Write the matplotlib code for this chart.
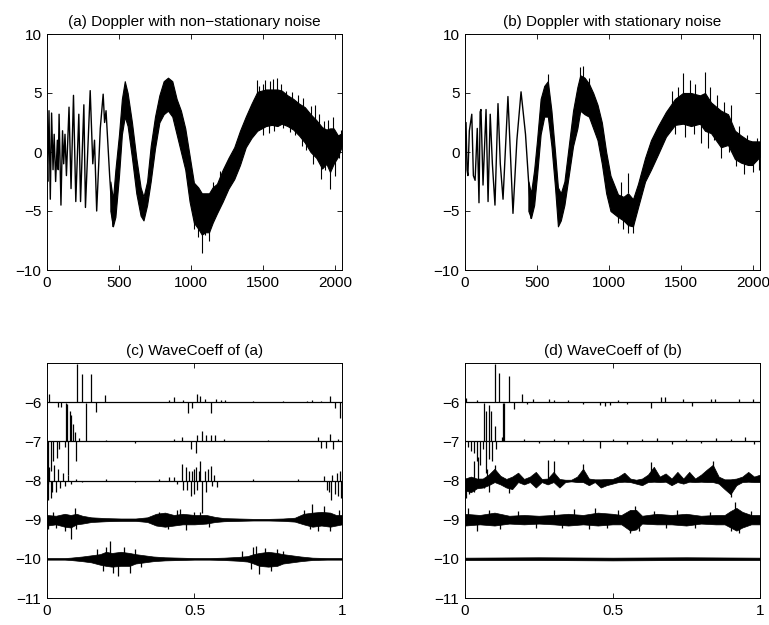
import matplotlib
matplotlib.use("Agg")
import matplotlib.pyplot as plt

plt.rcParams['font.family'] = ['Liberation Sans', 'DejaVu Sans']

# ---- (a) Doppler with non-stationary noise ----
# thin trace for the fast early oscillations (sample index, value)
trace_a_x = [0, 5, 14, 23, 32, 42, 50, 60, 72, 78, 84, 97, 108, 116, 125, 135, 153, 167, 184, 200,
             221, 233, 256, 267, 300, 318, 330, 345, 370, 390, 400, 410, 435, 458]
trace_a_y = [0, -2.5, 3.5, -4.0, 3.3, -1.5, 1.5, -2.5, 1.0, -1.5, 3.2, -4.5, 1.8, -1.0, 1.5, -2.0,
             3.8, -3.1, 4.8, -4.2, 3.2, -4.2, 4.0, -4.7, 5.2, -1.0, 1.0, -5.0, 2.0, 4.9, 2.5, 3.5, -2.0, -6.3]
# dense noisy core afterwards (sample index, lower edge, upper edge)
band_a_x = [440, 458, 475, 500, 520, 540, 560, 590, 620, 650, 670, 695, 720, 750, 780, 810, 840, 870,
            900, 930, 960, 990, 1020, 1050, 1075, 1100, 1125, 1150, 1180, 1220, 1260, 1300, 1340,
            1380, 1420, 1460, 1490, 1520, 1560, 1600, 1630, 1670, 1710, 1750, 1790, 1830, 1870,
            1910, 1940, 1965, 1990, 2020, 2047]
band_a_lo = [-5.0, -6.3, -5.5, -2.0, 1.5, 3.0, 2.2, -0.5, -3.5, -5.4, -5.8, -4.5, -2.5, 0.3, 2.5,
             3.2, 3.5, 3.0, 1.5, 0.0, -1.5, -4.2, -6.0, -6.5, -7.0, -6.8, -6.8, -6.0, -5.2, -4.2,
             -3.1, -2.3, -1.1, 0.4, 1.2, 1.8, 2.0, 2.2, 2.3, 2.2, 2.4, 2.2, 1.9, 1.4, 0.8, 0.0,
             -0.5, -1.4, -1.0, -1.7, -1.0, -0.4, 0.5]
band_a_hi = [-2.5, -4.0, -1.5, 1.5, 4.5, 6.0, 5.0, 2.5, -0.5, -3.0, -3.8, -2.5, 0.5, 3.0, 4.8,
             6.0, 6.3, 6.0, 4.5, 3.5, 2.0, -0.3, -2.6, -3.0, -3.5, -3.5, -3.5, -3.0, -2.7, -1.5,
             -0.5, 0.4, 1.8, 3.0, 4.1, 5.1, 5.2, 5.3, 5.3, 5.3, 5.2, 4.8, 4.5, 4.1, 3.8, 3.2,
             2.7, 2.1, 1.9, 2.0, 2.0, 1.4, 1.6]
# single noise strokes sticking out of the core (sample, from, to)
spk_a_x = [1020, 1050, 1075, 1100, 1125, 1150, 1200, 1440, 1460, 1475, 1500, 1515, 1545, 1570,
           1600, 1625, 1660, 1700, 1740, 1780, 1830, 1860, 1890, 1920, 1950, 1985, 2040,
           1500, 1540, 1575, 1640, 1690, 1720, 1770, 1800, 1845, 1880, 1905, 1930, 1965, 2000, 2030]
spk_a_y0 = [-5.0, -6.0, -6.5, -6.0, -6.0, -4.0, -3.0, 3.0, 4.0, 4.0, 4.0, 4.0, 4.0, 4.0,
            4.0, 4.0, 4.0, 3.5, 3.5, 3.0, 2.5, 2.0, 1.5, 1.0, 1.0, 1.0, 1.0,
            3.0, 3.0, 3.0, 3.0, 3.0, 2.5, 2.0, 1.5, 1.0, 1.0, 0.0, 0.0, 0.0, 0.0, 0.5]
spk_a_y1 = [-6.5, -7.2, -8.6, -7.0, -7.5, -2.5, -1.6, 4.5, 6.1, 5.6, 5.8, 6.1, 6.0, 6.2,
            6.3, 5.8, 5.2, 5.1, 4.8, 4.6, 3.9, 4.0, 3.2, 2.6, 2.7, 3.0, 1.9,
            1.4, 1.6, 1.8, 2.0, 1.7, 1.4, 0.5, 0.2, -1.0, -0.6, -2.3, -1.5, -3.1, -2.0, -0.5]

# ---- (b) Doppler with stationary noise ----
trace_b_x = [0, 7, 14, 20, 30, 47, 58, 70, 85, 97, 105, 111, 125, 146, 160, 175, 190, 208, 229,
             245, 264, 298, 333, 360, 389, 420, 458]
trace_b_y = [0, 2.5, -1.5, -2.0, 1.8, 3.2, -2.0, -2.4, 2.0, -4.3, 3.4, 3.6, -2.8, 3.6, -4.2, 3.2,
             -1.0, -4.5, 4.1, -1.0, -4.0, 4.7, -5.2, 1.0, 5.1, 1.5, -5.6]
band_b_x = [440, 458, 480, 500, 525, 550, 575, 600, 625, 645, 665, 690, 720, 750, 780, 800, 830,
            860, 890, 920, 950, 980, 1010, 1062, 1100, 1132, 1166, 1201, 1250, 1291, 1340, 1395,
            1458, 1513, 1569, 1631, 1666, 1708, 1777, 1826, 1874, 1916, 1965, 1993, 2047]
band_b_lo = [-5.0, -5.6, -4.5, -2.0, 1.5, 3.0, 3.0, 0.5, -3.0, -6.3, -5.8, -4.5, -2.0, 0.5, 2.0,
             3.5, 3.2, 3.0, 2.0, 1.0, -1.0, -3.5, -5.0, -5.5, -5.8, -6.2, -6.3, -4.7, -2.5, -1.5,
             -0.2, 1.3, 2.3, 2.4, 2.2, 2.4, 1.8, 1.6, 0.4, 0.6, -0.6, -0.9, -1.1, -1.1, -0.4]
band_b_hi = [-2.5, -3.5, -1.5, 1.0, 4.5, 5.6, 6.0, 3.5, 0.0, -3.0, -3.5, -2.5, 0.5, 3.5, 5.5,
             6.5, 6.3, 5.8, 5.0, 4.0, 2.5, 0.0, -2.0, -3.6, -3.8, -3.5, -4.0, -2.7, -0.5, 1.0,
             2.2, 3.4, 4.5, 5.0, 5.0, 4.8, 5.0, 4.2, 3.5, 3.2, 1.8, 1.4, 1.0, 0.9, 0.9]
spk_b_x = [575, 800, 820, 860, 1062, 1080, 1100, 1132, 1166, 1130, 1440, 1480, 1513, 1560, 1600,
           1666, 1700, 1750, 1800, 1850, 1900, 1960, 2030,
           1460, 1530, 1590, 1640, 1690, 1730, 1780, 1830, 1880, 1940, 2000, 2040]
spk_b_y0 = [5.0, 6.0, 6.0, 5.5, -5.0, -4.0, -5.5, -6.0, -6.0, -3.5, 4.0, 4.0, 4.5, 4.5, 4.5,
            4.5, 4.0, 3.5, 3.0, 2.5, 1.0, 0.5, 0.5,
            2.5, 2.5, 2.5, 2.5, 2.0, 2.0, 0.8, 0.8, -0.3, -0.5, -0.5, -0.3]
spk_b_y1 = [6.6, 7.2, 7.3, 6.3, -6.0, -2.5, -6.5, -6.9, -6.9, -1.8, 5.2, 5.5, 6.7, 6.1, 5.8,
            6.8, 5.5, 4.8, 4.2, 4.0, 2.2, 1.4, 1.2,
            1.5, 1.3, 1.5, 0.8, 0.3, 1.0, -0.5, 0.0, -1.2, -1.9, -1.7, -1.5]

# ---- (c) wavelet coefficients of (a): spikes (position, height) per level ----
c6_pos = [0.008, 0.038, 0.047, 0.102, 0.118, 0.148, 0.165, 0.197, 0.415, 0.43, 0.462, 0.477,
          0.491, 0.507, 0.519, 0.537, 0.555, 0.572, 0.59, 0.602, 0.7, 0.8, 0.88, 0.9, 0.93,
          0.959, 0.978, 0.993]
c6_val = [0.21, -0.13, -0.13, 0.97, 0.71, 0.71, -0.26, 0.19, 0.06, 0.12, 0.06, -0.27, -0.14,
          0.2, 0.16, 0.08, -0.27, 0.08, 0.06, 0.06, 0.03, 0.03, 0.04, 0.05, 0.04, 0.15, -0.14, -0.4]
c7_pos = [0.005, 0.012, 0.02, 0.035, 0.042, 0.06, 0.063, 0.069, 0.072, 0.077, 0.082, 0.088,
          0.094, 0.1, 0.108, 0.133, 0.2, 0.3, 0.43, 0.459, 0.487, 0.504, 0.51, 0.524, 0.54,
          0.555, 0.57, 0.6, 0.75, 0.92, 0.93, 0.945, 0.96, 0.97, 0.985]
c7_val = [-1.1, -0.77, -0.5, -0.43, -0.2, -0.15, 0.98, 0.95, -0.85, 0.78, 0.66, 0.45, 0.25, -0.5,
          0.08, 0.98, 0.04, -0.04, 0.05, 0.1, -0.2, -0.31, 0.15, 0.26, 0.15, 0.15, 0.15, 0.06,
          0.04, 0.1, -0.16, -0.16, 0.18, -0.2, 0.06]
c8_pos = [0.003, 0.008, 0.012, 0.018, 0.025, 0.03, 0.038, 0.045, 0.055, 0.06, 0.07, 0.08, 0.1,
          0.12, 0.2, 0.3, 0.38, 0.415, 0.43, 0.44, 0.459, 0.462, 0.47, 0.475, 0.48, 0.487, 0.49,
          0.497, 0.5, 0.505, 0.51, 0.515, 0.52, 0.527, 0.535, 0.54, 0.545, 0.555, 0.56, 0.565,
          0.575, 0.7, 0.85, 0.94, 0.95, 0.955, 0.962, 0.967, 0.975, 0.982, 0.988, 0.995, 0.998]
c8_val = [-0.5, 0.35, -0.45, -0.3, 0.4, -0.3, 0.3, -0.2, 0.2, -0.15, 0.15, -0.1, 0.05, -0.05,
          0.03, -0.03, 0.04, 0.08, 0.1, -0.1, 0.41, -0.25, 0.35, -0.23, 0.25, -0.4, 0.25, 0.3,
          -0.35, 0.35, -0.25, 0.25, 0.5, -0.83, 0.25, -0.3, 0.3, 0.37, -0.15, 0.15, -0.16, 0.03,
          0.03, 0.11, -0.23, -0.3, -0.49, 0.15, -0.35, 0.2, -0.4, 0.25, -0.45]
c9_pos = [0, 0.03, 0.06, 0.08, 0.1, 0.12, 0.15, 0.2, 0.25, 0.3, 0.34, 0.37, 0.4, 0.43, 0.46,
          0.5, 0.54, 0.57, 0.6, 0.65, 0.7, 0.75, 0.8, 0.84, 0.87, 0.9, 0.93, 0.96, 0.98, 1.0]
c9_hi = [0.12, 0.1, 0.15, 0.12, 0.15, 0.1, 0.06, 0.04, 0.03, 0.03, 0.06, 0.15, 0.18, 0.12, 0.15,
         0.12, 0.12, 0.07, 0.04, 0.03, 0.02, 0.02, 0.03, 0.05, 0.15, 0.18, 0.2, 0.18, 0.12, 0.12]
c9_lo = [-0.15, -0.12, -0.18, -0.2, -0.12, -0.1, -0.06, -0.04, -0.03, -0.03, -0.06, -0.15, -0.18,
         -0.15, -0.12, -0.12, -0.1, -0.06, -0.04, -0.03, -0.02, -0.02, -0.03, -0.05, -0.12,
         -0.18, -0.15, -0.18, -0.15, -0.12]
c9_spk_pos = [0.005, 0.02, 0.03, 0.06, 0.08, 0.095, 0.1, 0.38, 0.41, 0.44, 0.45, 0.47, 0.5,
              0.52, 0.55, 0.87, 0.89, 0.9, 0.92, 0.94, 0.96, 0.99]
c9_spk_val = [-0.25, 0.2, -0.2, -0.3, -0.5, 0.3, -0.25, 0.2, -0.25, 0.25, 0.28, -0.27, 0.2,
              0.2, -0.18, 0.25, -0.25, 0.4, -0.3, 0.35, -0.3, 0.25]
c10_pos = [0, 0.06, 0.08, 0.12, 0.15, 0.18, 0.2, 0.22, 0.25, 0.28, 0.3, 0.33, 0.36, 0.4, 0.45,
           0.5, 0.55, 0.6, 0.65, 0.68, 0.7, 0.72, 0.75, 0.78, 0.8, 0.83, 0.86, 0.9, 0.95, 1.0]
c10_hi = [0.02, 0.02, 0.03, 0.06, 0.09, 0.12, 0.18, 0.15, 0.18, 0.15, 0.12, 0.09, 0.06, 0.04,
          0.03, 0.02, 0.02, 0.03, 0.05, 0.07, 0.12, 0.15, 0.18, 0.15, 0.12, 0.09, 0.06, 0.03,
          0.02, 0.02]
c10_lo = [-0.02, -0.02, -0.03, -0.06, -0.09, -0.15, -0.18, -0.2, -0.18, -0.18, -0.12, -0.09,
          -0.06, -0.04, -0.03, -0.02, -0.02, -0.03, -0.05, -0.07, -0.12, -0.18, -0.2, -0.18,
          -0.12, -0.09, -0.06, -0.03, -0.02, -0.02]
c10_spk_pos = [0.17, 0.19, 0.2, 0.212, 0.225, 0.24, 0.26, 0.28, 0.3, 0.32, 0.66, 0.69, 0.7,
               0.71, 0.72, 0.74, 0.76, 0.78, 0.8]
c10_spk_val = [0.25, -0.3, 0.3, 0.45, -0.35, -0.45, 0.3, -0.35, 0.25, -0.2, 0.2, -0.25, 0.3,
               0.33, -0.38, 0.28, -0.3, 0.25, 0.2]

# ---- (d) wavelet coefficients of (b) ----
d6_pos = [0.005, 0.04, 0.1, 0.115, 0.148, 0.165, 0.193, 0.21, 0.23, 0.285, 0.3, 0.35, 0.4,
          0.456, 0.473, 0.49, 0.52, 0.55, 0.63, 0.664, 0.677, 0.739, 0.769, 0.835, 0.848, 0.928,
          0.977]
d6_val = [0.1, 0.06, 0.97, 0.74, 0.66, -0.17, 0.21, -0.05, 0.08, 0.09, 0.05, 0.06, -0.05, -0.08,
          -0.09, -0.08, 0.06, -0.05, -0.14, 0.14, 0.14, 0.08, -0.1, 0.08, 0.09, 0.08, 0.09]
d7_pos = [0.01, 0.02, 0.03, 0.04, 0.05, 0.06, 0.064, 0.07, 0.072, 0.08, 0.082, 0.087, 0.09, 0.1,
          0.105, 0.125, 0.128, 0.132, 0.2, 0.25, 0.3, 0.35, 0.4, 0.456, 0.5, 0.55, 0.6, 0.65,
          0.7, 0.75, 0.8, 0.85, 0.9, 0.95, 0.98]
d7_val = [-0.15, -0.25, -0.3, -0.5, -0.6, -0.2, 0.98, 0.77, -0.8, -0.45, 0.94, 0.77, -0.5, 0.38,
          -0.2, 0.1, 0.98, 0.98, 0.05, -0.05, 0.06, -0.06, 0.05, -0.16, 0.06, -0.06, 0.05, 0.08,
          -0.06, 0.07, -0.05, 0.08, 0.06, 0.1, -0.08]
d8_spk_pos = [0.005, 0.015, 0.03, 0.032, 0.045, 0.065, 0.075, 0.08, 0.1, 0.15, 0.28, 0.3, 0.4,
              0.63, 0.84, 0.9]
d8_spk_val = [-0.45, -0.35, -0.3, 0.5, 0.6, -0.2, 0.3, -0.3, 0.4, -0.32, 0.53, 0.49, 0.41,
              0.47, 0.51, -0.42]
d8_pos = [0.0, 0.02, 0.04, 0.06, 0.08, 0.1, 0.12, 0.14, 0.16, 0.18, 0.2, 0.22, 0.24, 0.26, 0.28,
          0.3, 0.32, 0.34, 0.36, 0.38, 0.4, 0.42, 0.44, 0.46, 0.48, 0.5, 0.52, 0.54, 0.56, 0.58,
          0.6, 0.62, 0.64, 0.66, 0.68, 0.7, 0.72, 0.74, 0.76, 0.78, 0.8, 0.82, 0.84, 0.86, 0.88,
          0.9, 0.92, 0.94, 0.96, 0.98, 1.0]
d8_hi = [0.05, 0.1, 0.05, 0.05, 0.15, 0.3, 0.12, 0.04, 0.1, 0.2, 0.04, 0.1, 0.22, 0.04, 0.05,
         0.22, 0.04, 0.02, 0.02, 0.1, 0.3, 0.05, 0.03, 0.03, 0.04, 0.04, 0.1, 0.2, 0.05, 0.02,
         0.05, 0.15, 0.35, 0.1, 0.18, 0.05, 0.22, 0.05, 0.22, 0.05, 0.15, 0.28, 0.4, 0.1, 0.03,
         0.03, 0.05, 0.1, 0.22, 0.1, 0.15]
d8_lo = [-0.25, -0.3, -0.2, -0.18, -0.12, -0.04, -0.1, -0.18, -0.22, -0.04, -0.1, -0.04, -0.18,
         -0.04, -0.1, -0.04, -0.18, -0.04, -0.02, -0.04, -0.04, -0.12, -0.04, -0.18, -0.12,
         -0.08, -0.04, -0.03, -0.04, -0.08, -0.12, -0.04, -0.03, -0.04, -0.03, -0.12, -0.04,
         -0.08, -0.03, -0.04, -0.03, -0.04, -0.04, -0.08, -0.22, -0.35, -0.12, -0.04, -0.03,
         -0.04, -0.04]
d9_pos = [0, 0.05, 0.1, 0.15, 0.2, 0.25, 0.3, 0.35, 0.4, 0.45, 0.5, 0.53, 0.56, 0.58, 0.6, 0.65,
          0.7, 0.75, 0.8, 0.85, 0.88, 0.9, 0.92, 0.94, 0.97, 1.0]
d9_hi = [0.15, 0.12, 0.18, 0.1, 0.12, 0.1, 0.12, 0.15, 0.12, 0.18, 0.15, 0.12, 0.25, 0.25, 0.1,
         0.15, 0.12, 0.15, 0.1, 0.12, 0.12, 0.22, 0.3, 0.2, 0.12, 0.12]
d9_lo = [-0.15, -0.12, -0.15, -0.1, -0.12, -0.1, -0.12, -0.15, -0.12, -0.15, -0.12, -0.12, -0.28,
         -0.25, -0.1, -0.12, -0.12, -0.15, -0.1, -0.12, -0.12, -0.2, -0.28, -0.2, -0.12, -0.12]
d9_spk_pos = [0.01, 0.04, 0.08, 0.12, 0.18, 0.24, 0.3, 0.33, 0.37, 0.42, 0.44, 0.48, 0.52, 0.56,
              0.575, 0.59, 0.64, 0.68, 0.72, 0.78, 0.83, 0.9, 0.915, 0.93, 0.97]
d9_spk_val = [0.3, -0.3, 0.25, -0.25, 0.22, -0.2, 0.25, -0.22, 0.28, -0.25, 0.3, -0.22, 0.25,
              -0.35, 0.35, -0.3, 0.22, -0.2, 0.25, -0.22, 0.2, -0.3, 0.45, -0.35, 0.22]
d10_pos = [0, 0.25, 0.5, 0.75, 1.0]
d10_hi = [0.03, 0.04, 0.03, 0.04, 0.03]
d10_lo = [-0.03, -0.03, -0.04, -0.03, -0.03]

levels = [-6, -7, -8, -9, -10]
FS = 11


def style(ax):
    ax.tick_params(direction='in', top=True, right=True, length=3.5, width=0.6,
                   labelsize=FS, pad=4)
    for s in ax.spines.values():
        s.set_linewidth(0.7)


def doppler(ax, tx, ty, bx, blo, bhi, sx, sy0, sy1, title):
    ax.plot(tx, ty, color='k', lw=1.0)
    ax.fill_between(bx, blo, bhi, color='k', lw=0.8)
    ax.vlines(sx, sy0, sy1, color='k', lw=0.8)
    ax.set_xlim(0, 2048)
    ax.set_ylim(-10, 10)
    ax.set_xticks([0, 500, 1000, 1500, 2000])
    ax.set_yticks([-10, -5, 0, 5, 10])
    ax.set_title(title, fontsize=FS, pad=6)
    style(ax)


def shift(base, vals):
    return [base + v for v in vals]


def coeffs(ax, spikes, bands, title):
    ax.hlines(levels, 0, 1, color='k', lw=0.9)
    for base, pos, val in spikes:
        ax.vlines(pos, base, shift(base, val), color='k', lw=0.9)
    for base, pos, lo, hi in bands:
        ax.fill_between(pos, shift(base, lo), shift(base, hi), color='k', lw=0.5)
    ax.set_xlim(0, 1)
    ax.set_ylim(-11, -5)
    ax.set_xticks([0, 0.5, 1])
    ax.set_xticklabels(['0', '0.5', '1'])
    ax.set_yticks([-11, -10, -9, -8, -7, -6])
    ax.set_title(title, fontsize=FS, pad=6)
    style(ax)


fig = plt.figure(figsize=(7.69, 6.25), dpi=100)
ax_a = fig.add_axes([0.0611, 0.568, 0.3836, 0.3776])
ax_b = fig.add_axes([0.6047, 0.568, 0.3836, 0.3776])
ax_c = fig.add_axes([0.0611, 0.0432, 0.3836, 0.376])
ax_d = fig.add_axes([0.6047, 0.0432, 0.3836, 0.376])

doppler(ax_a, trace_a_x, trace_a_y, band_a_x, band_a_lo, band_a_hi,
        spk_a_x, spk_a_y0, spk_a_y1, '(a) Doppler with non\u2212stationary noise')
doppler(ax_b, trace_b_x, trace_b_y, band_b_x, band_b_lo, band_b_hi,
        spk_b_x, spk_b_y0, spk_b_y1, '(b) Doppler with stationary noise')

coeffs(ax_c,
       [(-6, c6_pos, c6_val), (-7, c7_pos, c7_val), (-8, c8_pos, c8_val),
        (-9, c9_spk_pos, c9_spk_val), (-10, c10_spk_pos, c10_spk_val)],
       [(-9, c9_pos, c9_lo, c9_hi), (-10, c10_pos, c10_lo, c10_hi)],
       '(c) WaveCoeff of (a)')
coeffs(ax_d,
       [(-6, d6_pos, d6_val), (-7, d7_pos, d7_val), (-8, d8_spk_pos, d8_spk_val),
        (-9, d9_spk_pos, d9_spk_val)],
       [(-8, d8_pos, d8_lo, d8_hi), (-9, d9_pos, d9_lo, d9_hi), (-10, d10_pos, d10_lo, d10_hi)],
       '(d) WaveCoeff of (b)')

fig.savefig('out.png', dpi=100)
